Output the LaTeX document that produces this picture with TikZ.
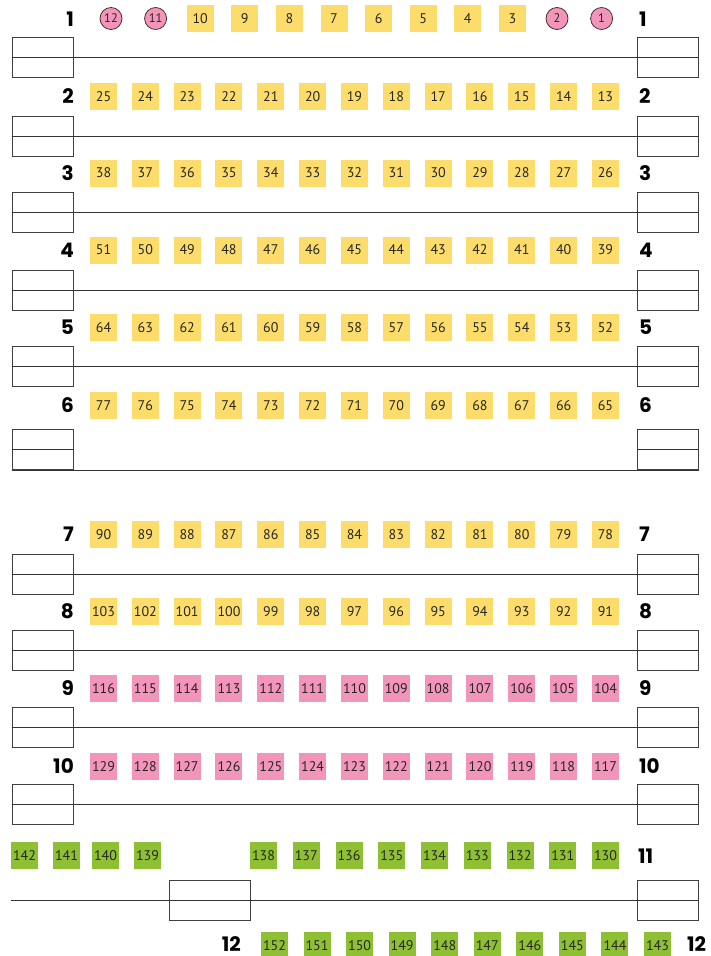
\documentclass[tikz,border=0pt]{standalone}
\usepackage{fontspec}
\setmainfont{PT Sans}
\newfontfamily\rowfont{Poppins}
\usetikzlibrary{calc}

\definecolor{seatyellow}{HTML}{FCDC6A}
\definecolor{seatpink}{HTML}{F394BA}
\definecolor{seatgreen}{HTML}{8FBF32}
\definecolor{rimbrown}{HTML}{4A3228}

\tikzset{
  seat/.style={minimum size=27pt, inner sep=0pt, text=black!85,
    font=\fontsize{14}{14}\selectfont},
  yseat/.style={seat, fill=seatyellow},
  pseat/.style={seat, fill=seatpink},
  gseat/.style={seat, fill=seatgreen},
  pcirc/.style={circle, draw=rimbrown, line width=0.8pt, fill=seatpink,
    minimum size=22pt, inner sep=0pt, text=black!85,
    font=\fontsize{12.5}{12.5}\selectfont},
  rowlab/.style={inner sep=0pt, font=\rowfont\bfseries\fontsize{20}{20}\selectfont},
  desk/.style={draw=black!75, line width=1pt, minimum width=61pt,
    minimum height=40pt, inner sep=0pt},
  aisle/.style={draw=black!80, line width=1pt}
}

\begin{document}
\begin{tikzpicture}[x=1pt,y=-1pt]
\useasboundingbox (0,0) rectangle (711,956);

% row 1
\node[rowlab, anchor=east] (nl1) at (74,19.5) {1};
\node[rowlab, anchor=west] (nr1) at (639,19.5) {1};
\foreach \n/\st [count=\k from 0] in {12/pcirc,11/pcirc,10/yseat,9/yseat,8/yseat,7/yseat,6/yseat,5/yseat,4/yseat,3/yseat,2/pcirc,1/pcirc}
  \node[\st] (s\n) at ({111+44.6*\k},18.5) {\n};

% rows 2 to 10
\foreach \r/\sy/\st in {2/96.5/yseat,3/173/yseat,4/250/yseat,5/327.5/yseat,6/405.5/yseat,7/534.5/yseat,8/611.5/yseat,9/688.5/pseat,10/766.5/pseat}{
  \node[rowlab, anchor=east] (nl\r) at (74,\sy) {\r};
  \node[rowlab, anchor=west] (nr\r) at (639,\sy) {\r};
  \foreach \k in {0,...,12}{
    \pgfmathtruncatemacro\n{13*\r-1-\k}
    \node[\st] (s\n) at ({103.5+41.83*\k},\sy) {\n};
  }
}

% desks and aisles
\foreach \r/\by in {1/57,2/136,3/212,4/290,5/366.5,7/574,8/650.5,9/727,10/804}{
  \node[desk] (l\r) at (42.5,\by) {};
  \node[desk] (r\r) at (667.5,\by) {};
  \draw[aisle] (l\r.west) -- (r\r.east);
}
\node[desk] (l6) at (42.5,449.5) {};
\node[desk] (r6) at (667.5,449.5) {};
\draw[aisle] (l6.west) -- (l6.east);
\draw[aisle] (r6.west) -- (r6.east);
\draw[aisle] (l6.south west) -- (r6.south east);

% row 11
\node[rowlab, anchor=west] (nr11) at (638,856) {11};
\foreach \n/\x in {142/24.5,141/66.5,140/105.5,139/147.5}
  \node[gseat] (s\n) at (\x,855.5) {\n};
\foreach \k in {0,...,8}{
  \pgfmathtruncatemacro\n{138-\k}
  \node[gseat] (s\n) at ({263.5+42.75*\k},855.5) {\n};
}
\coordinate (a11) at (11,900.5);
\node[desk, minimum width=81pt] (m11) at (209.5,900.5) {};
\node[desk] (r11) at (667.5,900.5) {};
\draw[aisle] (a11) -- (r11.east);

% row 12
\node[rowlab, anchor=east] (nl12) at (241,944.5) {12};
\node[rowlab, anchor=west] (nr12) at (687,944.5) {12};
\foreach \k in {0,...,9}{
  \pgfmathtruncatemacro\n{152-\k}
  \node[gseat] (s\n) at ({274.5+42.56*\k},945.5) {\n};
}
\end{tikzpicture}
\end{document}
